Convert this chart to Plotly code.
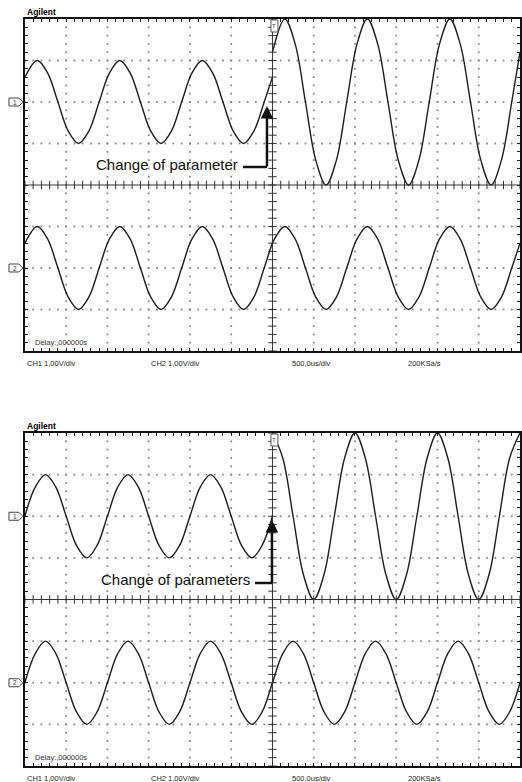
import plotly.graph_objects as go
import numpy as np

W, H = 522, 782

# ---- data: time in divisions (500,0us/div), voltage in V (1,00V/div) ----
# Top screenshot, CH1 before the parameter change (1 V amplitude)
t_top_ch1_a = [0.0, 0.3, 0.55, 0.8, 1.05, 1.3, 1.55, 1.8, 2.05, 2.3, 2.55, 2.8, 3.05,
               3.3, 3.55, 3.8, 4.05, 4.3, 4.55, 4.8, 5.05, 5.3, 5.55, 5.8, 6.0]
v_top_ch1_a = [0.6, 1.0, 0.7, 0.0, -0.7, -1.0, -0.7, 0.0, 0.7, 1.0, 0.7, 0.0, -0.7,
               -1.0, -0.7, 0.0, 0.7, 1.0, 0.7, 0.0, -0.7, -1.0, -0.7, 0.0, 0.6]
# Top screenshot, CH1 after the change (2 V amplitude)
t_top_ch1_b = [6.0, 6.3, 6.55, 6.8, 7.05, 7.3, 7.55, 7.8, 8.05, 8.3, 8.55, 8.8, 9.05,
               9.3, 9.55, 9.8, 10.05, 10.3, 10.55, 10.8, 11.05, 11.3, 11.55, 11.8, 12.0]
v_top_ch1_b = [1.2, 2.0, 1.4, 0.0, -1.4, -2.0, -1.4, 0.0, 1.4, 2.0, 1.4, 0.0, -1.4,
               -2.0, -1.4, 0.0, 1.4, 2.0, 1.4, 0.0, -1.4, -2.0, -1.4, 0.0, 1.2]
# Top screenshot, CH2 (unchanged reference)
t_top_ch2 = [0.0, 0.3, 0.55, 0.8, 1.05, 1.3, 1.55, 1.8, 2.05, 2.3, 2.55, 2.8, 3.05,
             3.3, 3.55, 3.8, 4.05, 4.3, 4.55, 4.8, 5.05, 5.3, 5.55, 5.8, 6.05,
             6.3, 6.55, 6.8, 7.05, 7.3, 7.55, 7.8, 8.05, 8.3, 8.55, 8.8, 9.05,
             9.3, 9.55, 9.8, 10.05, 10.3, 10.55, 10.8, 11.05, 11.3, 11.55, 11.8, 12.0]
v_top_ch2 = [0.6, 1.0, 0.7, 0.0, -0.7, -1.0, -0.7, 0.0, 0.7, 1.0, 0.7, 0.0, -0.7,
             -1.0, -0.7, 0.0, 0.7, 1.0, 0.7, 0.0, -0.7, -1.0, -0.7, 0.0, 0.7,
             1.0, 0.7, 0.0, -0.7, -1.0, -0.7, 0.0, 0.7, 1.0, 0.7, 0.0, -0.7,
             -1.0, -0.7, 0.0, 0.7, 1.0, 0.7, 0.0, -0.7, -1.0, -0.7, 0.0, 0.6]

# Bottom screenshot, CH1 before the change
t_bot_ch1_a = [0.0, 0.25, 0.5, 0.75, 1.0, 1.25, 1.5, 1.75, 2.0, 2.25, 2.5, 2.75, 3.0,
               3.25, 3.5, 3.75, 4.0, 4.25, 4.5, 4.75, 5.0, 5.25, 5.5, 5.75, 6.0]
v_bot_ch1_a = [0.0, 0.7, 1.0, 0.7, 0.0, -0.7, -1.0, -0.7, 0.0, 0.7, 1.0, 0.7, 0.0,
               -0.7, -1.0, -0.7, 0.0, 0.7, 1.0, 0.7, 0.0, -0.7, -1.0, -0.7, 0.0]
# Bottom screenshot, CH1 after the change (2 V amplitude, phase shifted)
t_bot_ch1_b = [6.0, 6.25, 6.5, 6.75, 7.0, 7.25, 7.5, 7.75, 8.0, 8.25, 8.5, 8.75, 9.0,
               9.25, 9.5, 9.75, 10.0, 10.25, 10.5, 10.75, 11.0, 11.25, 11.5, 11.75, 12.0]
v_bot_ch1_b = [2.0, 1.4, 0.0, -1.4, -2.0, -1.4, 0.0, 1.4, 2.0, 1.4, 0.0, -1.4, -2.0,
               -1.4, 0.0, 1.4, 2.0, 1.4, 0.0, -1.4, -2.0, -1.4, 0.0, 1.4, 2.0]
# Bottom screenshot, CH2
t_bot_ch2 = [0.0, 0.25, 0.5, 0.75, 1.0, 1.25, 1.5, 1.75, 2.0, 2.25, 2.5, 2.75, 3.0,
             3.25, 3.5, 3.75, 4.0, 4.25, 4.5, 4.75, 5.0, 5.25, 5.5, 5.75, 6.0,
             6.25, 6.5, 6.75, 7.0, 7.25, 7.5, 7.75, 8.0, 8.25, 8.5, 8.75, 9.0,
             9.25, 9.5, 9.75, 10.0, 10.25, 10.5, 10.75, 11.0, 11.25, 11.5, 11.75, 12.0]
v_bot_ch2 = [0.0, 0.7, 1.0, 0.7, 0.0, -0.7, -1.0, -0.7, 0.0, 0.7, 1.0, 0.7, 0.0,
             -0.7, -1.0, -0.7, 0.0, 0.7, 1.0, 0.7, 0.0, -0.7, -1.0, -0.7, 0.0,
             0.7, 1.0, 0.7, 0.0, -0.7, -1.0, -0.7, 0.0, 0.7, 1.0, 0.7, 0.0,
             -0.7, -1.0, -0.7, 0.0, 0.7, 1.0, 0.7, 0.0, -0.7, -1.0, -0.7, 0.0]

ch_offset = {"CH1": 2.0, "CH2": -2.0}   # screen position (div)
volts_per_div = 1.0

status_labels = ["CH1 1,00V/div", "CH2 1,00V/div", "500,0us/div", "200KSa/s"]
delay_label = "Delay:,000000s"
brand = "Agilent"
callouts = ["Change of parameter", "Change of parameters"]

# ---- layout geometry (pixels) ----
X0, X1 = 25, 522
scopes = [(19, 351), (433, 766)]


def px(x, y):
    return x / W, 1 - y / H


fig = go.Figure()
wave_style = dict(color="#1e1e1e", width=1.4, shape="spline", smoothing=1.0)

data_sets = [
    [(t_top_ch1_a, v_top_ch1_a, "CH1"), (t_top_ch1_b, v_top_ch1_b, "CH1"), (t_top_ch2, v_top_ch2, "CH2")],
    [(t_bot_ch1_a, v_bot_ch1_a, "CH1"), (t_bot_ch1_b, v_bot_ch1_b, "CH1"), (t_bot_ch2, v_bot_ch2, "CH2")],
]

minor = np.round(np.arange(0, 12.0001, 0.2), 3)
minor_y = np.round(np.arange(-4, 4.0001, 0.2), 3)

for i, (top, bot) in enumerate(scopes):
    xa = "x" if i == 0 else "x2"
    ya = "y" if i == 0 else "y2"
    # dotted graticule
    gx, gy = [], []
    for xv in [1, 2, 3, 4, 5, 7, 8, 9, 10, 11]:
        gx += [xv] * len(minor_y)
        gy += list(minor_y)
    for yv in [-3, -2, -1, 1, 2, 3]:
        gx += list(minor)
        gy += [yv] * len(minor)
    fig.add_trace(go.Scatter(x=gx, y=gy, mode="markers", xaxis=xa, yaxis=ya,
                             marker=dict(symbol="square", size=1.8, color="#8a8a8a"),
                             hoverinfo="skip", showlegend=False))
    # center cross ticks
    fig.add_trace(go.Scatter(x=list(minor), y=[0] * len(minor), mode="markers", xaxis=xa, yaxis=ya,
                             marker=dict(symbol="line-ns", size=6, line=dict(width=1, color="#333")),
                             hoverinfo="skip", showlegend=False))
    fig.add_trace(go.Scatter(x=[6] * len(minor_y), y=list(minor_y), mode="markers", xaxis=xa, yaxis=ya,
                             marker=dict(symbol="line-ew", size=6, line=dict(width=1, color="#333")),
                             hoverinfo="skip", showlegend=False))
    # waveforms
    for t, v, ch in data_sets[i]:
        fig.add_trace(go.Scatter(x=t, y=[ch_offset[ch] + val / volts_per_div for val in v],
                                 mode="lines", xaxis=xa, yaxis=ya, line=wave_style,
                                 hoverinfo="skip", showlegend=False))
    # center cross lines
    fig.add_shape(type="line", xref=xa, yref=ya, x0=0, x1=12, y0=0, y1=0,
                  line=dict(color="#333", width=1))
    fig.add_shape(type="line", xref=xa, yref=ya, x0=6, x1=6, y0=-4, y1=4,
                  line=dict(color="#333", width=1))

axis_common = dict(showgrid=False, zeroline=False, showticklabels=False,
                   ticks="inside", ticklen=3, tickwidth=1, tickcolor="#222",
                   showline=True, linewidth=2, linecolor="#111", mirror="ticks",
                   dtick=0.2, tick0=0, fixedrange=True)

for i, (top, bot) in enumerate(scopes):
    xd = [X0 / W, 1.0]
    yd = [1 - bot / H, 1 - top / H]
    sx = "xaxis" if i == 0 else "xaxis2"
    sy = "yaxis" if i == 0 else "yaxis2"
    fig.layout[sx] = dict(domain=xd, range=[0, 12], anchor="y" if i == 0 else "y2", **axis_common)
    fig.layout[sy] = dict(domain=yd, range=[-4, 4], anchor="x" if i == 0 else "x2", **axis_common)

annotations = []
label_x = [25, 150, 291, 408]
for i, (top, bot) in enumerate(scopes):
    # brand
    x, y = px(25, top - 7)
    annotations.append(dict(text="<b>%s</b>" % brand, x=x, y=y, xref="paper", yref="paper",
                            xanchor="left", yanchor="middle", showarrow=False,
                            font=dict(family="Liberation Sans", size=8.5, color="#000")))
    # status line
    for lx, lab in zip(label_x, status_labels):
        x, y = px(lx, bot + 12)
        annotations.append(dict(text=lab, x=x, y=y, xref="paper", yref="paper",
                                xanchor="left", yanchor="middle", showarrow=False,
                                font=dict(family="Liberation Sans", size=7.5, color="#222")))
    # delay
    x, y = px(33, bot - 9)
    annotations.append(dict(text=delay_label, x=x, y=y, xref="paper", yref="paper",
                            xanchor="left", yanchor="middle", showarrow=False,
                            font=dict(family="Liberation Sans", size=7.5, color="#333")))
    # channel markers
    mid = (top + bot) / 2
    for num, cy in (("1", top + (bot - top) / 4), ("2", top + 3 * (bot - top) / 4)):
        xs = [9, 19, 23, 19, 9]
        ys = [cy - 4, cy - 4, cy, cy + 4, cy + 4]
        path = "M " + " L ".join("%f,%f" % px(a, b) for a, b in zip(xs, ys)) + " Z"
        fig.add_shape(type="path", xref="paper", yref="paper", path=path,
                      line=dict(color="#444", width=1), fillcolor="white")
        x, y = px(15, cy)
        annotations.append(dict(text=num, x=x, y=y, xref="paper", yref="paper",
                                xanchor="center", yanchor="middle", showarrow=False,
                                font=dict(family="Liberation Sans", size=6.5, color="#333")))
    # trigger marker
    x0, y0 = px(272, top + 1)
    x1, y1 = px(279, top + 13)
    fig.add_shape(type="rect", xref="paper", yref="paper", x0=x0, x1=x1, y0=y1, y1=y0,
                  line=dict(color="#555", width=1), fillcolor="white")
    x, y = px(275.5, top + 7)
    annotations.append(dict(text="T", x=x, y=y, xref="paper", yref="paper",
                            xanchor="center", yanchor="middle", showarrow=False,
                            font=dict(family="Liberation Sans", size=6, color="#444")))

# callouts: text, horizontal leader, vertical arrow
callout_geom = [  # text right x, text y, line y, line x end, arrow tip y
    (241, 164, 167, 268, 106),
    (253, 579, 583, 273, 520),
]
for txt, (tx, ty, ly, lx, tip) in zip(callouts, callout_geom):
    x, y = px(tx, ty)
    annotations.append(dict(text=txt, x=x, y=y, xref="paper", yref="paper",
                            xanchor="right", yanchor="middle", showarrow=False,
                            font=dict(family="Liberation Sans", size=15, color="#111")))
    xa0, ya0 = px(tx + 3, ly)
    xa1, ya1 = px(lx, ly)
    fig.add_shape(type="line", xref="paper", yref="paper", x0=xa0, x1=xa1, y0=ya0, y1=ya1,
                  line=dict(color="#111", width=2.5))
    hx, hy = px(lx, tip)
    annotations.append(dict(text="", x=hx, y=hy, xref="paper", yref="paper",
                            showarrow=True, ax=0, ay=ly - tip + 1, arrowhead=2,
                            arrowsize=1, arrowwidth=2.5, arrowcolor="#111"))

fig.update_layout(width=W, height=H, margin=dict(l=0, r=0, t=0, b=0),
                  paper_bgcolor="white", plot_bgcolor="white",
                  annotations=annotations, showlegend=False)

fig.write_html("out.html")
